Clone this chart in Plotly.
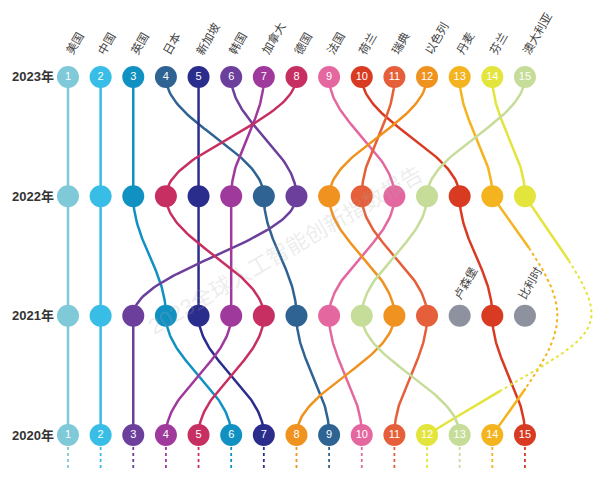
import numpy as np
import plotly.graph_objects as go

# --- DATA ---
countries = ['美国', '中国', '英国', '日本', '新加坡', '韩国', '加拿大', '德国',
             '法国', '荷兰', '瑞典', '以色列', '丹麦', '芬兰', '澳大利亚']
colors = ['#7fc9d8', '#38bde6', '#1191c2', '#2e6394', '#2b2d8c', '#6b3f9b', '#a0399c', '#c72f62',
          '#e567a0', '#d93a22', '#e5603a', '#ef921f', '#f4b420', '#e3e43c', '#c5dd98']
years = [2023, 2022, 2021, 2020]
rank_2023 = [1, 2, 3, 4, 5, 6, 7, 8, 9, 10, 11, 12, 13, 14, 15]
rank_2022 = [1, 2, 3, 7, 5, 8, 6, 4, 11, 13, 10, 9, 14, 15, 12]
rank_2021 = [1, 2, 4, 8, 5, 3, 6, 7, 9, 14, 12, 11, None, None, 10]
rank_2020 = [1, 2, 6, 9, 7, 3, 4, 5, 10, 15, 11, 8, 14, 12, 13]

# countries that only appear in 2021
extra_names = ['卢森堡', '比利时']
extra_ranks = [13, 15]
extra_color = '#8e929e'

ranks = {2023: rank_2023, 2022: rank_2022, 2021: rank_2021, 2020: rank_2020}

# handle offsets (style) for curves that skip 2021
bridge_handles = {'丹麦': (2.66, 1.0, 2.66, 1.0), '芬兰': (3.3, 1.3, 5.8, 1.0)}

FONT = "Liberation Sans, Noto Sans CJK SC, sans-serif"


def bezier(p0, p1, p2, p3, t):
    t = np.asarray(t)[:, None]
    pts = ((1 - t) ** 3) * p0 + 3 * ((1 - t) ** 2) * t * p1 + 3 * (1 - t) * t ** 2 * p2 + t ** 3 * p3
    return pts[:, 0], pts[:, 1]


fig = go.Figure()

# connecting curves
for i, name in enumerate(countries):
    for ya, yb in zip(years[:-1], years[1:]):
        ra, rb = ranks[ya][i], ranks[yb][i]
        if ra is None or rb is None:
            continue
        p0 = np.array([ra, ya]); p3 = np.array([rb, yb])
        p1 = np.array([ra, ya - 0.38]); p2 = np.array([rb, yb + 0.38])
        x, y = bezier(p0, p1, p2, p3, np.linspace(0, 1, 60))
        fig.add_scatter(x=x, y=y, mode='lines', line=dict(color=colors[i], width=2.5),
                        hoverinfo='skip', showlegend=False)

    # 2022 -> 2020 bridge (missing in 2021)
    if name in bridge_handles:
        a1, b1, a2, b2 = bridge_handles[name]
        ra, rb = rank_2022[i], rank_2020[i]
        p0 = np.array([ra, 2022]); p3 = np.array([rb, 2020])
        p1 = np.array([ra + a1, 2022 - b1]); p2 = np.array([rb + a2, 2020 + b2])
        for t0, t1, dash in [(0, 0.17, 'solid'), (0.17, 0.85, 'dot'), (0.85, 1, 'solid')]:
            x, y = bezier(p0, p1, p2, p3, np.linspace(t0, t1, 50))
            fig.add_scatter(x=x, y=y, mode='lines',
                            line=dict(color=colors[i], width=2.5 if dash == 'solid' else 2, dash=dash),
                            hoverinfo='skip', showlegend=False)

    # short dotted stubs under 2020
    fig.add_scatter(x=[rank_2020[i], rank_2020[i]], y=[2020, 2019.7], mode='lines',
                    line=dict(color=colors[i], width=1.8, dash='dot'),
                    hoverinfo='skip', showlegend=False)

# dots
for yr in years:
    xs, cs, txt = [], [], []
    for i in range(len(countries)):
        r = ranks[yr][i]
        if r is None:
            continue
        xs.append(r); cs.append(colors[i])
        txt.append(str(r) if yr in (2023, 2020) else '')
    if yr == 2021:
        xs += extra_ranks; cs += [extra_color] * len(extra_ranks); txt += [''] * len(extra_ranks)
    fig.add_scatter(x=xs, y=[yr] * len(xs), mode='markers+text', text=txt,
                    textposition='middle center',
                    textfont=dict(color='white', size=11, family="Liberation Sans"),
                    marker=dict(color=cs, size=22, line=dict(width=0)),
                    hoverinfo='skip', showlegend=False)

# country labels on top
for i, name in enumerate(countries):
    fig.add_annotation(x=rank_2023[i] - 0.2, y=2023.16, text=name, showarrow=False,
                       textangle=-60, xanchor='left', yanchor='bottom', borderpad=0,
                       font=dict(size=11.5, color='#444', family=FONT))
for name, r in zip(extra_names, extra_ranks):
    fig.add_annotation(x=r - 0.3, y=2021.11, text=name, showarrow=False,
                       textangle=-60, xanchor='left', yanchor='bottom', borderpad=0,
                       font=dict(size=11.5, color='#444', family=FONT))

# year labels
for yr in years:
    fig.add_annotation(x=0.6, y=yr, text=f'<b>{yr}年</b>', showarrow=False,
                       xanchor='right', yanchor='middle', borderpad=0,
                       font=dict(size=13, color='#333', family=FONT))

# watermark
fig.add_annotation(x=7.65, y=2021.55, text='2023全球人工智能创新指数报告', showarrow=False,
                   textangle=-30, font=dict(size=22, color='rgba(170,170,170,0.22)', family=FONT))

# page adds an 8px body margin, so the figure is 604x472
fig.update_xaxes(range=[-0.838, 17.667], visible=False, fixedrange=True)
fig.update_yaxes(range=[2019.623, 2023.578], visible=False, fixedrange=True)
fig.update_layout(width=604, height=472, margin=dict(l=0, r=0, t=0, b=0),
                  paper_bgcolor='white', plot_bgcolor='white')
fig.write_html("out.html")
